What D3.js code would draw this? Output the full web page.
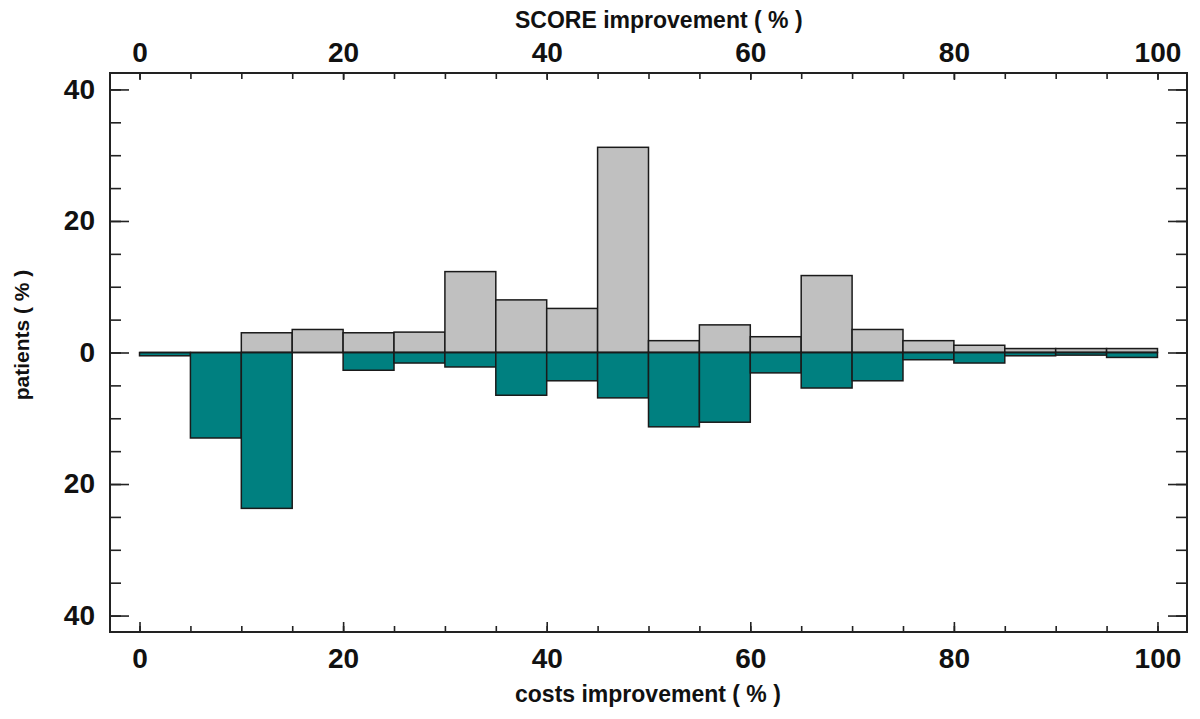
<!DOCTYPE html>
<html>
<head>
<meta charset="utf-8">
<script src="https://cdn.jsdelivr.net/npm/d3@7"></script>
<style>
  body { margin: 0; background: #fff; }
  text { font-family: "Liberation Sans", Arial, sans-serif; font-weight: bold; fill: #111; }
</style>
</head>
<body>
<div id="chart-area"></div>
<script>
var width = 1200;
var height = 719;

// bins of 5 % from 0 to 100
var binStarts = [0, 5, 10, 15, 20, 25, 30, 35, 40, 45, 50, 55, 60, 65, 70, 75, 80, 85, 90, 95];
// SCORE improvement (upper, grey)
var scoreValues = [0, 0, 3.0, 3.5, 3.0, 3.1, 12.3, 8.0, 6.7, 31.2, 1.8, 4.2, 2.4, 11.7, 3.5, 1.8, 1.1, 0.6, 0.6, 0.6];
// costs improvement (lower, teal)
var costValues = [0.5, 13.0, 23.7, 0, 2.7, 1.6, 2.2, 6.5, 4.3, 6.9, 11.3, 10.6, 3.1, 5.4, 4.3, 1.1, 1.6, 0.5, 0.4, 0.75];
var binWidth = 5;

var xMajor = [0, 20, 40, 60, 80, 100];
var yMajor = [-40, -20, 0, 20, 40];

var plotLeft = 110, plotRight = 1187, plotTop = 73, plotBottom = 632;

var svg = d3.select("#chart-area").append("svg")
    .attr("width", width)
    .attr("height", height);

var x = d3.scaleLinear()
    .domain([-2.9, 102.9])
    .range([plotLeft, plotRight]);

var y = d3.scaleLinear()
    .domain([-42.5, 42.5])
    .range([plotBottom, plotTop]);

var bars = binStarts.map(function(b, i) {
    return { start: b, score: scoreValues[i], cost: costValues[i] };
});

// grey bars (up)
svg.selectAll("rect.score")
    .data(bars.filter(function(d) { return d.score > 0; }))
    .enter()
    .append("rect")
    .attr("class", "score")
    .attr("x", function(d) { return x(d.start); })
    .attr("y", function(d) { return y(d.score); })
    .attr("width", function(d) { return x(d.start + binWidth) - x(d.start); })
    .attr("height", function(d) { return y(0) - y(d.score); })
    .attr("fill", "#c0c0c0")
    .attr("stroke", "#1a1a1a")
    .attr("stroke-width", 1.5);

// teal bars (down)
svg.selectAll("rect.cost")
    .data(bars.filter(function(d) { return d.cost > 0; }))
    .enter()
    .append("rect")
    .attr("class", "cost")
    .attr("x", function(d) { return x(d.start); })
    .attr("y", function(d) { return y(0); })
    .attr("width", function(d) { return x(d.start + binWidth) - x(d.start); })
    .attr("height", function(d) { return y(-d.cost) - y(0); })
    .attr("fill", "#008080")
    .attr("stroke", "#1a1a1a")
    .attr("stroke-width", 1.5);

// zero line along the bars
svg.append("line")
    .attr("x1", x(0)).attr("x2", x(100))
    .attr("y1", y(0)).attr("y2", y(0))
    .attr("stroke", "#1a1a1a")
    .attr("stroke-width", 1.5);

function styleAxis(g) {
    g.select(".domain").remove();
    g.selectAll("line").attr("stroke", "#222").attr("stroke-width", 1.6);
    g.selectAll("text").attr("font-size", 28).attr("font-weight", "bold")
        .attr("font-family", "'Liberation Sans', Arial, sans-serif").attr("fill", "#111");
}

var minorX = d3.range(0, 101, 5);
var minorY = d3.range(-40, 41, 5);

// bottom
svg.append("g").attr("transform", "translate(0," + plotBottom + ")")
    .call(d3.axisBottom(x).tickValues(minorX).tickSize(-6).tickFormat(""))
    .call(styleAxis);
svg.append("g").attr("transform", "translate(0," + plotBottom + ")")
    .call(d3.axisBottom(x).tickValues(xMajor).tickSize(-10).tickPadding(16).tickFormat(d3.format("d")))
    .call(styleAxis);

// top
svg.append("g").attr("transform", "translate(0," + plotTop + ")")
    .call(d3.axisTop(x).tickValues(minorX).tickSize(-6).tickFormat(""))
    .call(styleAxis);
svg.append("g").attr("transform", "translate(0," + plotTop + ")")
    .call(d3.axisTop(x).tickValues(xMajor).tickSize(-7).tickPadding(11).tickFormat(d3.format("d")))
    .call(styleAxis);

// left
svg.append("g").attr("transform", "translate(" + plotLeft + ",0)")
    .call(d3.axisLeft(y).tickValues(minorY).tickSize(-11).tickFormat(""))
    .call(styleAxis);
svg.append("g").attr("transform", "translate(" + plotLeft + ",0)")
    .call(d3.axisLeft(y).tickValues(yMajor).tickSize(-19).tickPadding(15)
        .tickFormat(function(d) { return Math.abs(d); }))
    .call(styleAxis);

// right
svg.append("g").attr("transform", "translate(" + plotRight + ",0)")
    .call(d3.axisRight(y).tickValues(minorY).tickSize(-11).tickFormat(""))
    .call(styleAxis);
svg.append("g").attr("transform", "translate(" + plotRight + ",0)")
    .call(d3.axisRight(y).tickValues(yMajor).tickSize(-19).tickFormat(""))
    .call(styleAxis);

// frame
svg.append("rect")
    .attr("x", plotLeft).attr("y", plotTop)
    .attr("width", plotRight - plotLeft).attr("height", plotBottom - plotTop)
    .attr("fill", "none")
    .attr("stroke", "#222")
    .attr("stroke-width", 2);

// titles
svg.append("text")
    .attr("x", 515).attr("y", 28)
    .attr("font-size", 23)
    .text("SCORE improvement ( % )");

svg.append("text")
    .attr("x", 515).attr("y", 702)
    .attr("font-size", 23)
    .text("costs improvement ( % )");

svg.append("text")
    .attr("transform", "translate(29,335) rotate(-90)")
    .attr("text-anchor", "middle")
    .attr("font-size", 21)
    .text("patients ( % )");
</script>
</body>
</html>
